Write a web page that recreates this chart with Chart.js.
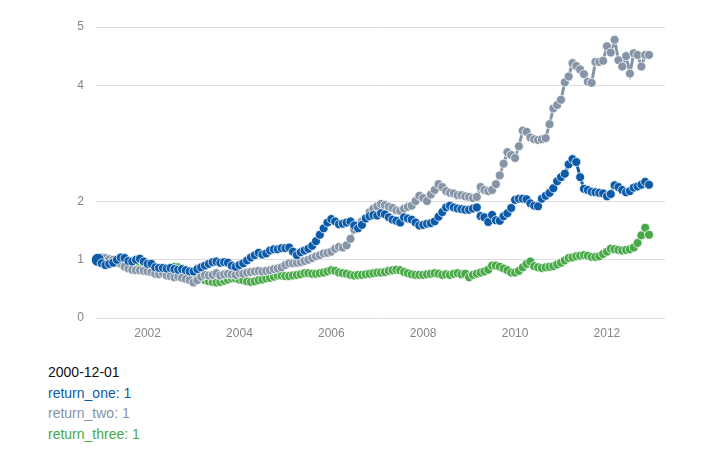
<!DOCTYPE html>
<html>
<head>
<meta charset="utf-8">
<script src="https://cdn.jsdelivr.net/npm/chart.js@4.4.1/dist/chart.umd.min.js"></script>
<style>
  html, body { margin: 0; padding: 0; background: #fff; }
  #wrap { position: relative; width: 712px; height: 454px; }
  #box { position: absolute; left: 0; top: 0; width: 712px; height: 345px; }
  #legend { position: absolute; left: 48px; top: 362px; font-family: "Liberation Sans", Arial, Helvetica, sans-serif; font-size: 14px; line-height: 20.6px; }
</style>
</head>
<body>
<div id="wrap">
  <div id="box"><canvas id="c"></canvas></div>
  <div id="legend"></div>
</div>
<script>
// ---- data (monthly, 2000-12 .. 2012-12) ----
const startYear = 2000, startMonth = 12, monthCount = 145;

const returnOne = [
  1.00,0.94,0.91,0.93,0.95,1.00,1.04,1.03,0.98,0.97,1.00,1.02,0.97,
  0.93,0.93,0.87,0.86,0.86,0.85,0.86,0.84,0.83,0.84,0.82,0.80,
  0.80,0.84,0.87,0.90,0.93,0.96,0.97,0.95,0.96,0.95,0.90,0.88,
  0.91,0.94,0.99,1.04,1.08,1.12,1.09,1.11,1.16,1.18,1.18,1.20,
  1.20,1.21,1.14,1.08,1.13,1.16,1.19,1.24,1.32,1.43,1.54,1.64,
  1.70,1.66,1.61,1.62,1.64,1.66,1.59,1.54,1.60,1.71,1.75,1.77,
  1.76,1.80,1.78,1.73,1.69,1.67,1.64,1.73,1.71,1.69,1.64,1.59,
  1.60,1.62,1.63,1.66,1.74,1.82,1.90,1.93,1.90,1.88,1.87,1.86,
  1.86,1.88,1.90,1.75,1.73,1.65,1.77,1.68,1.67,1.75,1.80,1.89,
  2.03,2.05,2.05,2.04,1.97,1.93,1.92,2.05,2.10,2.15,2.23,2.35,
  2.42,2.48,2.64,2.73,2.68,2.42,2.22,2.20,2.17,2.16,2.15,2.14,
  2.09,2.13,2.28,2.25,2.20,2.16,2.18,2.24,2.26,2.29,2.34,2.29
];
const returnTwo = [
  1.00,1.04,1.03,1.01,1.00,0.99,0.93,0.88,0.85,0.83,0.82,0.82,0.81,
  0.80,0.79,0.76,0.75,0.77,0.73,0.72,0.70,0.71,0.69,0.67,0.65,
  0.61,0.65,0.71,0.74,0.73,0.74,0.77,0.73,0.75,0.76,0.75,0.74,
  0.77,0.76,0.78,0.79,0.80,0.81,0.80,0.81,0.82,0.84,0.85,0.87,
  0.91,0.94,0.94,0.95,0.96,0.98,1.00,1.03,1.06,1.08,1.11,1.12,
  1.14,1.19,1.22,1.21,1.25,1.36,1.52,1.61,1.66,1.72,1.82,1.88,
  1.92,1.96,1.94,1.91,1.89,1.85,1.84,1.88,1.91,1.93,2.01,2.10,
  2.06,2.01,2.12,2.20,2.30,2.25,2.18,2.15,2.14,2.11,2.11,2.09,
  2.08,2.06,2.08,2.25,2.20,2.18,2.20,2.30,2.45,2.65,2.85,2.80,
  2.75,2.95,3.22,3.20,3.10,3.07,3.06,3.07,3.09,3.33,3.60,3.66,
  3.75,4.05,4.15,4.38,4.33,4.27,4.19,4.06,4.04,4.40,4.40,4.42,
  4.67,4.56,4.78,4.43,4.32,4.50,4.20,4.55,4.52,4.32,4.52,4.52
];
const returnThree = [
  1.00,0.98,0.97,0.96,0.97,0.95,0.94,0.92,0.90,0.89,0.91,0.92,0.91,
  0.89,0.88,0.86,0.85,0.86,0.84,0.86,0.88,0.87,0.83,0.78,0.74,
  0.70,0.70,0.69,0.65,0.63,0.62,0.61,0.62,0.64,0.66,0.68,0.68,
  0.66,0.65,0.63,0.62,0.63,0.65,0.66,0.68,0.69,0.71,0.73,0.73,
  0.72,0.72,0.73,0.74,0.75,0.77,0.77,0.76,0.76,0.77,0.78,0.80,
  0.82,0.81,0.78,0.77,0.76,0.74,0.73,0.74,0.74,0.75,0.76,0.77,
  0.78,0.78,0.79,0.81,0.82,0.83,0.82,0.79,0.77,0.75,0.74,0.74,
  0.74,0.75,0.76,0.77,0.76,0.74,0.75,0.74,0.76,0.77,0.75,0.76,
  0.70,0.74,0.76,0.78,0.80,0.83,0.90,0.90,0.88,0.85,0.82,0.78,
  0.78,0.81,0.87,0.93,0.97,0.89,0.87,0.86,0.87,0.88,0.89,0.92,
  0.95,0.99,1.03,1.04,1.06,1.07,1.08,1.07,1.05,1.05,1.06,1.10,
  1.14,1.19,1.18,1.17,1.16,1.17,1.18,1.21,1.29,1.42,1.55,1.43
];

const seriesNames = ['return_one', 'return_two', 'return_three'];
const yTickValues = [0, 1, 2, 4, 5];
const xTickValues = [2002, 2004, 2006, 2008, 2010, 2012];

// ---- styles ----
const colors = ['#0c5ba8', '#8595a7', '#48a947'];

// month positions (fractional years) and date labels
const dates = [], xPos = [];
for (let i = 0; i < monthCount; i++) {
  const m0 = (startMonth - 1) + i;
  const y = startYear + Math.floor(m0 / 12), m = (m0 % 12) + 1;
  dates.push(y + '-' + String(m).padStart(2, '0') + '-01');
  xPos.push(y + (m - 1) / 12);
}
const toPts = arr => arr.map((v, i) => ({ x: xPos[i], y: v }));
const allSeries = [returnOne, returnTwo, returnThree];

const datasets = allSeries.map((arr, k) => ({
  label: seriesNames[k],
  data: toPts(arr),
  borderColor: colors[k],
  backgroundColor: colors[k],
  borderWidth: 3,
  pointBackgroundColor: colors[k],
  pointBorderColor: 'rgba(255,255,255,0.75)',
  pointBorderWidth: 1,
  pointRadius: (ctx) => (k === 0 && ctx.dataIndex === 0) ? 6.5 : 4.5,
  tension: 0,
  fill: false,
  clip: false
}));

const FONT = '"Liberation Sans", Arial, Helvetica, sans-serif';

new Chart(document.getElementById('c'), {
  type: 'line',
  data: { datasets },
  options: {
    responsive: true,
    maintainAspectRatio: false,
    animation: false,
    events: [],
    layout: { padding: { left: 0, right: 47, top: 27, bottom: 0 } },
    plugins: { legend: { display: false }, tooltip: { enabled: false } },
    scales: {
      x: {
        type: 'linear',
        min: 2000.877,
        max: 2013.264,
        grid: { display: false, drawTicks: false },
        border: { display: false },
        afterBuildTicks: (s) => { s.ticks = xTickValues.map(v => ({ value: v })); },
        afterFit: (s) => { s.height = 27; },
        ticks: {
          padding: 8,
          color: '#858585',
          font: { family: FONT, size: 12 },
          callback: (v) => String(v)
        }
      },
      y: {
        type: 'linear',
        min: 0,
        max: 5,
        grid: { color: '#dedede', lineWidth: 1, drawTicks: false },
        border: { display: false },
        afterBuildTicks: (s) => { s.ticks = yTickValues.map(v => ({ value: v })); },
        afterFit: (s) => { s.width = 96; },
        ticks: {
          padding: 12,
          color: '#858585',
          font: { family: FONT, size: 12 },
          callback: (v) => String(v)
        }
      }
    }
  }
});

// hover-style legend for the first date
const lg = document.getElementById('legend');
const d0 = document.createElement('div');
d0.textContent = dates[0];
d0.style.color = '#111';
lg.appendChild(d0);
seriesNames.forEach((n, k) => {
  const d = document.createElement('div');
  d.textContent = n + ': ' + allSeries[k][0];
  d.style.color = colors[k];
  lg.appendChild(d);
});
</script>
</body>
</html>
